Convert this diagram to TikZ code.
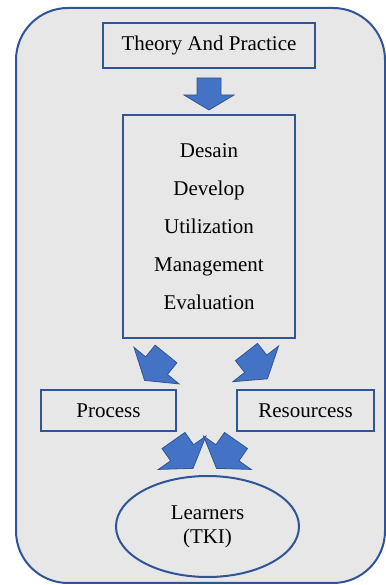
\documentclass[tikz,border=0pt]{standalone}
\usepackage{fontspec}
\setmainfont{Liberation Serif}
\usepackage{tikz}
\usetikzlibrary{positioning,shapes.geometric}
\definecolor{boxblue}{HTML}{2F5597}
\definecolor{arrowblue}{HTML}{4472C4}
\definecolor{panelgray}{HTML}{E7E7E7}
\tikzset{
    %Define style for boxes
    blockbox/.style={
           rectangle,
           draw=boxblue, line width=1pt,
           outer sep=0pt,
           font=\fontsize{10.5}{12}\selectfont,
           text centered},
    learnerellipse/.style={
           ellipse,
           draw=boxblue, line width=1pt,
           outer sep=0pt, inner sep=0pt,
           minimum width=91.5pt,
           minimum height=50.5pt,
           align=center,
           font=\fontsize{10.5}{12}\selectfont},
    % Define block arrows
    downarrow/.pic={
           \filldraw[fill=arrowblue, draw=boxblue, line width=0.4pt]
             (0,-6) -- (8.5,-6) -- (8.5,-12.5) -- (16,0) -- (8.5,12.5) -- (8.5,6) -- (0,6) -- cycle;},
    bentarrow/.pic={
           \filldraw[fill=arrowblue, draw=boxblue, line width=0.4pt]
             (0,-7) -- (7.5,-7) -- (7.5,-14.5) -- (17,0) -- (7.5,14.5) -- (7.5,7) -- (0,7) -- cycle;}
}

\begin{document}
\begin{tikzpicture}[x=1pt,y=1pt]
\useasboundingbox (0,0) rectangle (193,292.5);
 %panel
\draw[fill=panelgray, draw=boxblue, line width=1pt, rounded corners=26pt] (8,1) rectangle (192.5,288.5);
 %nodes
\node[blockbox, minimum width=106pt, minimum height=22.5pt] (theory) at (104.5,269.75) {Theory And Practice};
\node[blockbox, minimum width=86pt, minimum height=111.5pt, align=center,
      font=\fontsize{10.5}{19}\selectfont, below=23.5pt of theory] (domain)
      {Desain\\Develop\\Utilization\\Management\\Evaluation};
\node[blockbox, minimum width=67.5pt, minimum height=20.5pt, below=26pt of domain, xshift=-50.25pt] (process) {Process};
\node[blockbox, minimum width=68.5pt, minimum height=20.5pt, below=26pt of domain, xshift=48.25pt] (resourcess) {Resourcess};
\node[learnerellipse, below=22.5pt of process, xshift=49.5pt] (learners) {Learners\\(TKI)};
 %arrows
\pic[rotate=-90] at ([yshift=-5pt]theory.south) {downarrow};
\pic[rotate=-129] at ([shift={(-21.5pt,-8pt)}]domain.south) {bentarrow};
\pic[rotate=-52] at ([shift={(18.75pt,-7pt)}]domain.south) {bentarrow};
\pic[rotate=-55] at ([shift={(-1.25pt,-4.75pt)}]process.south east) {bentarrow};
\pic[rotate=-125] at ([shift={(-0.5pt,-4.75pt)}]resourcess.south west) {bentarrow};
\end{tikzpicture}
\end{document}
